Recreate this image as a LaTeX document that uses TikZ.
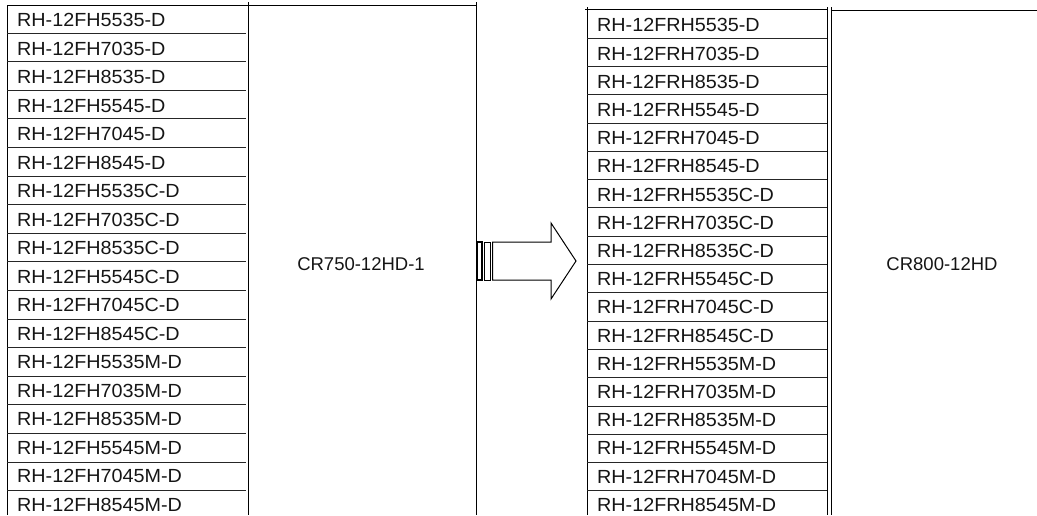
\documentclass[tikz,border=0pt]{standalone}
\usepackage{fontspec}
\setmainfont{Liberation Sans}[FakeStretch=1.04]
\newfontfamily\crfont{Liberation Sans}
\definecolor{ink}{HTML}{151515}
\begin{document}
\begin{tikzpicture}[x=1pt,y=-1pt,
  tbl/.style={line width=0.9pt, draw=black},
  rowline/.style={line width=0.8pt, draw=black!85},
  item/.style={anchor=base west, inner sep=0pt, text=ink, font=\fontsize{19}{21}\selectfont},
  big/.style={anchor=base, inner sep=0pt, text=ink, font=\crfont\fontsize{18.5}{21}\selectfont},
  arrowpart/.style={line width=1pt, draw=black, fill=white}]
\useasboundingbox (0,0) rectangle (1037,515);
% left table
\draw[tbl] (7,5) -- (7,515);
\draw[tbl] (7,5) -- (476,5);
\draw[tbl] (248,2) -- (248,515);
\draw[tbl] (476,2) -- (476,515);
\foreach \k in {0,...,16} \draw[rowline] (7,{33+28.6*\k}) -- (246,{33+28.6*\k});
\foreach \t [count=\i from 0] in {RH-12FH5535-D,RH-12FH7035-D,RH-12FH8535-D,RH-12FH5545-D,RH-12FH7045-D,RH-12FH8545-D,RH-12FH5535C-D,RH-12FH7035C-D,RH-12FH8535C-D,RH-12FH5545C-D,RH-12FH7045C-D,RH-12FH8545C-D,RH-12FH5535M-D,RH-12FH7035M-D,RH-12FH8535M-D,RH-12FH5545M-D,RH-12FH7045M-D,RH-12FH8545M-D}
  \node[item] (l\i) at (17,{26.6+28.5*\i}) {\t};
\node[big] (crl) at (361,270) {CR750-12HD-1};
% right table
\draw[tbl] (587,7) -- (587,515);
\draw[tbl] (585,9) -- (827,9);
\draw[tbl] (827,7) -- (827,515);
\draw[tbl] (831,7) -- (831,515);
\draw[tbl] (831,10) -- (1037,10);
\foreach \k in {0,...,16} \draw[rowline] (587,{38+28.3*\k}) -- (827,{38+28.3*\k});
\foreach \t [count=\i from 0] in {RH-12FRH5535-D,RH-12FRH7035-D,RH-12FRH8535-D,RH-12FRH5545-D,RH-12FRH7045-D,RH-12FRH8545-D,RH-12FRH5535C-D,RH-12FRH7035C-D,RH-12FRH8535C-D,RH-12FRH5545C-D,RH-12FRH7045C-D,RH-12FRH8545C-D,RH-12FRH5535M-D,RH-12FRH7035M-D,RH-12FRH8535M-D,RH-12FRH5545M-D,RH-12FRH7045M-D,RH-12FRH8545M-D}
  \node[item] (r\i) at (597,{31.8+28.2*\i}) {\t};
\node[big] (crr) at (942,270) {CR800-12HD};
% block arrow
\draw[arrowpart, line width=1.6pt] (477,242) rectangle (482,280);
\draw[arrowpart] (484.5,242) rectangle (490,280);
\draw[arrowpart] (492.5,242) -- (551,242) -- (551,223) -- (576,261) -- (551,299) -- (551,280) -- (492.5,280) -- cycle;
\end{tikzpicture}
\end{document}
